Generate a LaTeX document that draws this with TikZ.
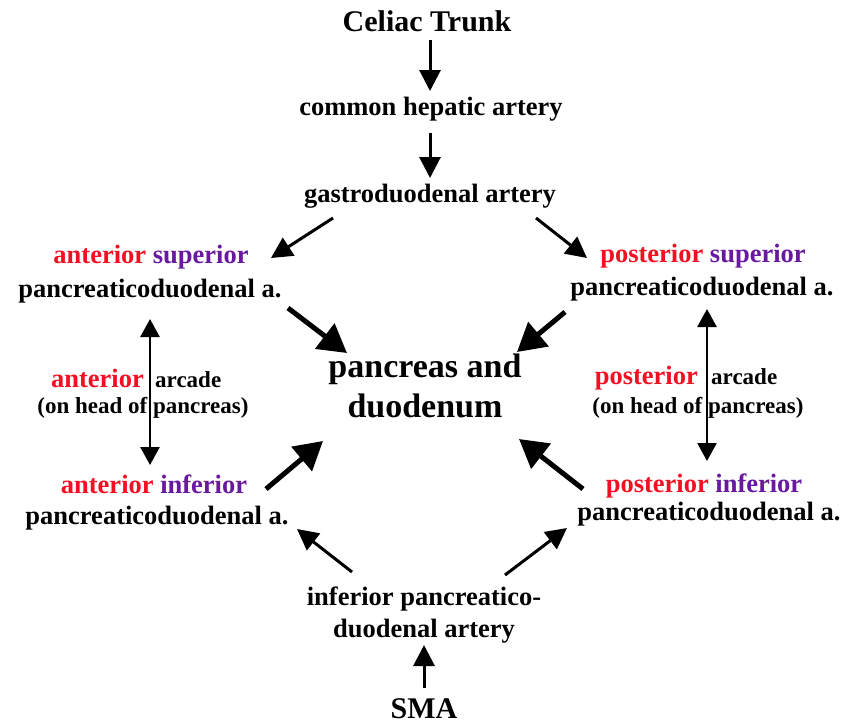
\documentclass[tikz,border=0pt]{standalone}
\usepackage{fontspec}
\setmainfont{Liberation Serif}
\usetikzlibrary{arrows.meta}
\definecolor{artred}{RGB}{245,15,35}
\definecolor{artpurple}{RGB}{105,25,160}
\begin{document}
\begin{tikzpicture}[x=1pt,y=-1pt,
  lbl/.style={inner sep=0pt, anchor=base, font=\bfseries\fontsize{26.5}{30}\selectfont},
  ttl/.style={lbl, font=\bfseries\fontsize{30}{34}\selectfont},
  big/.style={lbl, font=\bfseries\fontsize{34}{38}\selectfont},
  sml/.style={lbl, font=\bfseries\fontsize{23}{26}\selectfont},
  thinarr/.style={line width=3pt, -{Triangle[length=21pt,width=21pt]}},
  thickarr/.style={line width=5pt, -{Triangle[length=28pt,width=31pt]}},
  botharr/.style={line width=2.6pt, {Triangle[length=18pt,width=19pt]}-{Triangle[length=18pt,width=19pt]}}]
\useasboundingbox[fill=white] (0,0) rectangle (856,723);

% labels
\node[ttl] (celiac) at (427,31) {Celiac Trunk};
\node[lbl] (cha) at (431,115) {common hepatic artery};
\node[lbl] (gda) at (430,202) {gastroduodenal artery};

\node[lbl] (asup1) at (151,263) {\textcolor{artred}{anterior} \textcolor{artpurple}{superior}};
\node[lbl] (asup2) at (150,297) {pancreaticoduodenal a.};
\node[lbl] (psup1) at (703,262) {\textcolor{artred}{posterior} \textcolor{artpurple}{superior}};
\node[lbl] (psup2) at (702,295) {pancreaticoduodenal a.};

\node[big] (pd1) at (425,377) {pancreas and};
\node[big] (pd2) at (425,417) {duodenum};

\node[lbl, anchor=base east, text=artred] (aarc1) at (144,387) {anterior};
\node[sml, anchor=base west] (aarc2) at (155,387) {arcade};
\node[sml] (aarc3) at (143,413) {(on head of pancreas)};
\node[lbl, anchor=base east, text=artred] (parc1) at (698,384) {posterior};
\node[sml, anchor=base west] (parc2) at (711,384) {arcade};
\node[sml] (parc3) at (698,413) {(on head of pancreas)};

\node[lbl] (ainf1) at (154,493) {\textcolor{artred}{anterior} \textcolor{artpurple}{inferior}};
\node[lbl] (ainf2) at (157,524) {pancreaticoduodenal a.};
\node[lbl] (pinf1) at (704,492) {\textcolor{artred}{posterior} \textcolor{artpurple}{inferior}};
\node[lbl] (pinf2) at (709,520) {pancreaticoduodenal a.};

\node[lbl] (ipd1) at (424,605) {inferior pancreatico-};
\node[lbl] (ipd2) at (424,637) {duodenal artery};
\node[ttl] (sma) at (424,718) {SMA};

% connector end points
\coordinate (c1a) at (430,40);  \coordinate (c1b) at (430,91);
\coordinate (c2a) at (430,133); \coordinate (c2b) at (430,178);
\coordinate (g1a) at (333,218); \coordinate (g1b) at (271,258);
\coordinate (g2a) at (536,218); \coordinate (g2b) at (587,258);
\coordinate (t1a) at (288,308); \coordinate (t1b) at (347,353);
\coordinate (t2a) at (565,312); \coordinate (t2b) at (517,352);
\coordinate (t3a) at (266,489); \coordinate (t3b) at (323,441);
\coordinate (t4a) at (583,489); \coordinate (t4b) at (519,439);
\coordinate (b1a) at (352,572); \coordinate (b1b) at (297,529);
\coordinate (b2a) at (505,575); \coordinate (b2b) at (567,528);
\coordinate (s1a) at (424,688); \coordinate (s1b) at (424,645);
\coordinate (la) at (150,319);  \coordinate (lb) at (150,465);
\coordinate (ra) at (707,309);  \coordinate (rb) at (707,461);

% connectors
\draw[thinarr] (c1a) -- (c1b);
\draw[thinarr] (c2a) -- (c2b);
\draw[thinarr] (g1a) -- (g1b);
\draw[thinarr] (g2a) -- (g2b);
\draw[thickarr] (t1a) -- (t1b);
\draw[thickarr] (t2a) -- (t2b);
\draw[thickarr] (t3a) -- (t3b);
\draw[thickarr] (t4a) -- (t4b);
\draw[thinarr] (b1a) -- (b1b);
\draw[thinarr] (b2a) -- (b2b);
\draw[thinarr] (s1a) -- (s1b);
\draw[botharr] (la) -- (lb);
\draw[botharr] (ra) -- (rb);
\end{tikzpicture}
\end{document}
